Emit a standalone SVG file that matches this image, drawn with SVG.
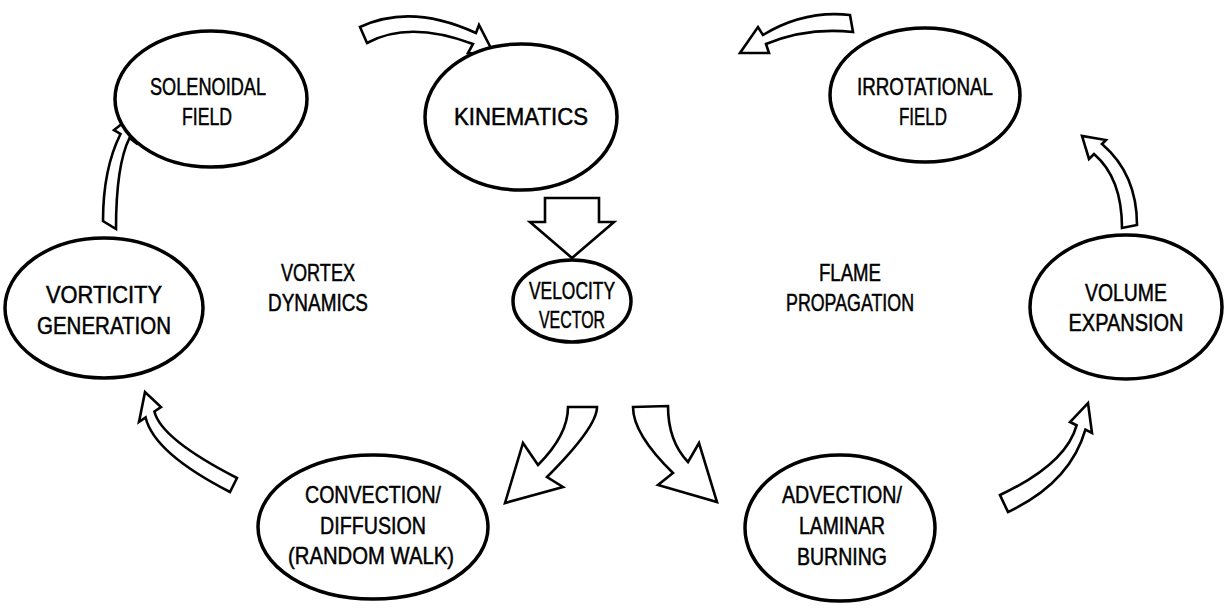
<svg xmlns="http://www.w3.org/2000/svg" width="1229" height="608" viewBox="0 0 1229 608">
<style>
.node ellipse{fill:#fff;stroke:#000;stroke-width:3.5}
.lbl{font-family:"Liberation Sans",Arial,sans-serif;font-size:24px;fill:#000;stroke:#000;stroke-width:0.5;text-anchor:middle}
.arr{fill:#fff;stroke:#000;stroke-width:2.6;stroke-linejoin:miter}
</style>
<rect width="1229" height="608" fill="#fff"/>
<g id="connectors">
<path class="arr" d="M 360,27 Q 411,3 476,33 L 479,25 L 494,54 L 468,53 L 473,44 Q 409,20 367,43 Z"/>
<path class="arr" d="M 850,15 Q 804,10 763,35 L 758,27 L 740,53 L 769,53 L 766,44 Q 807,27 853,32 Z"/>
<path class="arr" d="M 103,221 Q 103,169 120.5,134 L 114,130 L 137,112 L 136,143 L 129.5,138 Q 116,165 116,229 Z"/>
<path class="arr" d="M 1122,228 Q 1122,178 1094,154 L 1089,159 L 1082,136 L 1106,140 L 1102,144 Q 1137,174 1137,225 Z"/>
<path class="arr" d="M 237,478 L 230,492 Q 154,453 145.6,417.5 L 139,422 L 145,392 L 161,407 L 154.4,411.5 Q 161,439 237,478 Z"/>
<path class="arr" d="M 1000,495 Q 1066,464 1076.6,425.3 L 1070,422 L 1088,403 L 1092,433 L 1085.4,429.7 Q 1070,483 1008,512 Z"/>
<path class="arr" d="M 568,407 L 597,407 Q 597,427 547,477 L 563,487 L 505,503 L 523,443 L 538,465 Q 568,435 568,407 Z"/>
<path class="arr" d="M 633,407 L 668,406 Q 668,441 688,462 L 699,443 L 717,502 L 658,485 L 673,473 Q 633,434 633,407 Z"/>
<path class="arr" d="M 545,198 L 599,198 L 599,222 L 614,222 L 572,258 L 530,222 L 545,222 Z"/>
</g>
<g id="solenoidal" class="node">
<ellipse cx="211" cy="99" rx="96" ry="68"/>
<text class="lbl" x="208" y="95" textLength="116" lengthAdjust="spacingAndGlyphs">SOLENOIDAL</text>
<text class="lbl" x="207" y="125" textLength="50" lengthAdjust="spacingAndGlyphs">FIELD</text>
</g>
<g id="kinematics" class="node">
<ellipse cx="521" cy="117" rx="96" ry="73"/>
<text class="lbl" x="521" y="125" textLength="134" lengthAdjust="spacingAndGlyphs">KINEMATICS</text>
</g>
<g id="irrotational" class="node">
<ellipse cx="925" cy="95" rx="95" ry="67"/>
<text class="lbl" x="925" y="95" textLength="136" lengthAdjust="spacingAndGlyphs">IRROTATIONAL</text>
<text class="lbl" x="923" y="125" textLength="48" lengthAdjust="spacingAndGlyphs">FIELD</text>
</g>
<g id="vorticity" class="node">
<ellipse cx="104" cy="308" rx="99" ry="70"/>
<text class="lbl" x="104" y="303" textLength="116" lengthAdjust="spacingAndGlyphs">VORTICITY</text>
<text class="lbl" x="104" y="334" textLength="134" lengthAdjust="spacingAndGlyphs">GENERATION</text>
</g>
<g id="velocity" class="node">
<ellipse cx="572" cy="301" rx="59" ry="41"/>
<text class="lbl" x="572" y="299" textLength="86" lengthAdjust="spacingAndGlyphs">VELOCITY</text>
<text class="lbl" x="572" y="328" textLength="66" lengthAdjust="spacingAndGlyphs">VECTOR</text>
</g>
<g id="volume" class="node">
<ellipse cx="1126" cy="307" rx="96" ry="72"/>
<text class="lbl" x="1126" y="301" textLength="82" lengthAdjust="spacingAndGlyphs">VOLUME</text>
<text class="lbl" x="1126" y="331" textLength="115" lengthAdjust="spacingAndGlyphs">EXPANSION</text>
</g>
<g id="convection" class="node">
<ellipse cx="373" cy="527" rx="115" ry="72"/>
<text class="lbl" x="373" y="503" textLength="136" lengthAdjust="spacingAndGlyphs">CONVECTION/</text>
<text class="lbl" x="373" y="534" textLength="106" lengthAdjust="spacingAndGlyphs">DIFFUSION</text>
<text class="lbl" x="371" y="564" textLength="166" lengthAdjust="spacingAndGlyphs">(RANDOM WALK)</text>
</g>
<g id="advection" class="node">
<ellipse cx="840" cy="528" rx="95" ry="73"/>
<text class="lbl" x="842" y="503" textLength="120" lengthAdjust="spacingAndGlyphs">ADVECTION/</text>
<text class="lbl" x="842" y="534" textLength="86" lengthAdjust="spacingAndGlyphs">LAMINAR</text>
<text class="lbl" x="842" y="565" textLength="90" lengthAdjust="spacingAndGlyphs">BURNING</text>
</g>
<g id="labels">
<text class="lbl" x="318" y="281" textLength="74" lengthAdjust="spacingAndGlyphs">VORTEX</text>
<text class="lbl" x="318" y="311" textLength="100" lengthAdjust="spacingAndGlyphs">DYNAMICS</text>
<text class="lbl" x="850" y="281" textLength="62" lengthAdjust="spacingAndGlyphs">FLAME</text>
<text class="lbl" x="850" y="311" textLength="128" lengthAdjust="spacingAndGlyphs">PROPAGATION</text>
</g>
</svg>
